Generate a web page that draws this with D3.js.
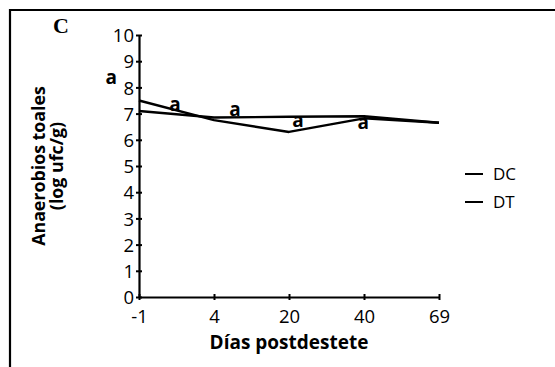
<!DOCTYPE html>
<html>
<head>
<meta charset="utf-8">
<script src="https://cdn.jsdelivr.net/npm/d3@7"></script>
<style>
  body { margin: 0; background: #fff; }
  svg { display: block; }
  text { font-family: "Open Sans", sans-serif; fill: #000; }
</style>
</head>
<body>
<div id="chart"></div>
<script>
// Chart values
const days = ['-1', '4', '20', '40', '69'];
const dcValues = [7.5, 6.75, 6.3, 6.82, 6.65];
const dtValues = [7.1, 6.85, 6.88, 6.9, 6.65];
const seriesNames = ['DC', 'DT'];

// significance letters, placed in data units (x = fractional day index)
const sigLetters = ['a', 'a', 'a', 'a', 'a'];
const sigX = [-0.37, 0.48, 1.28, 2.12, 2.99];
const sigY = [8.36, 7.33, 7.14, 6.72, 6.62];

const yTicks = d3.range(0, 11);

const WIDTH = 555;
const HEIGHT = 367;
const X0 = 139, X1 = 439; // plot extent
const Y0 = 297, Y1 = 35;
const TICK_FONT = '18.5px';

const svg = d3.select('#chart')
  .append('svg')
  .attr('width', WIDTH)
  .attr('height', HEIGHT);

// frame (only left and top edges are visible in the crop)
svg.append('path')
  .attr('d', `M10,${HEIGHT} V10 H${WIDTH}`)
  .attr('fill', 'none')
  .attr('stroke', '#000')
  .attr('stroke-width', 2.2);

svg.append('text')
  .attr('x', 53)
  .attr('y', 33)
  .style('font-family', '"Liberation Serif", serif')
  .style('font-weight', 'bold')
  .style('font-size', '22px')
  .text('C');

const x = d3.scaleLinear().domain([0, days.length - 1]).range([X0, X1]);
const y = d3.scaleLinear().domain([0, 10]).range([Y0, Y1]);

// y axis
const yAxis = svg.append('g')
  .attr('transform', `translate(${X0},0)`)
  .call(d3.axisLeft(y).tickValues(yTicks).tickSize(0).tickPadding(5));
yAxis.select('.domain').attr('stroke', '#000').attr('stroke-width', 2.2);
yAxis.selectAll('.tick text').style('font-size', TICK_FONT).style('font-family', '"Open Sans", sans-serif').attr('dy', '0.36em');
yAxis.selectAll('.tick').append('line')
  .attr('x1', -3).attr('x2', 3)
  .attr('stroke', '#000').attr('stroke-width', 2);

// x axis
const xAxis = svg.append('g')
  .attr('transform', `translate(0,${Y0})`)
  .call(d3.axisBottom(x).tickValues(d3.range(days.length)).tickFormat(i => days[i]).tickSize(0).tickPadding(13));
xAxis.select('.domain').attr('stroke', '#000').attr('stroke-width', 2.2);
xAxis.selectAll('.tick text').style('font-size', TICK_FONT).style('font-family', '"Open Sans", sans-serif');
xAxis.selectAll('.tick').append('line')
  .attr('y1', -3).attr('y2', 3)
  .attr('stroke', '#000').attr('stroke-width', 2);

// titles
svg.append('text')
  .attr('x', 289)
  .attr('y', 349)
  .attr('text-anchor', 'middle')
  .style('font-weight', 'bold')
  .style('font-size', '19px')
  .text('Días postdestete');

const yTitle = svg.append('g').attr('transform', 'translate(0,166) rotate(-90)');
yTitle.append('text')
  .attr('x', 0).attr('y', 45)
  .attr('text-anchor', 'middle')
  .style('font-weight', 'bold')
  .style('font-size', '17.8px')
  .text('Anaerobios toales');
yTitle.append('text')
  .attr('x', 0).attr('y', 63)
  .attr('text-anchor', 'middle')
  .style('font-weight', 'bold')
  .style('font-size', '17.8px')
  .text('(log ufc/g)');

// lines
const line = d3.line()
  .x((d, i) => x(i))
  .y(d => y(d));

[dcValues, dtValues].forEach(vals => {
  svg.append('path')
    .datum(vals)
    .attr('d', line)
    .attr('fill', 'none')
    .attr('stroke', '#000')
    .attr('stroke-width', 2.4)
    .attr('stroke-linejoin', 'round');
});

// significance letters
svg.selectAll('.sig')
  .data(sigLetters)
  .enter()
  .append('text')
  .attr('class', 'sig')
  .attr('x', (d, i) => x(sigX[i]))
  .attr('y', (d, i) => y(sigY[i]))
  .attr('dy', '0.3em')
  .attr('text-anchor', 'middle')
  .style('font-weight', 'bold')
  .style('font-size', '19px')
  .text(d => d);

// legend
const legend = svg.append('g').attr('transform', 'translate(465,174)');
seriesNames.forEach((name, i) => {
  const g = legend.append('g').attr('transform', `translate(0,${i * 28})`);
  g.append('line')
    .attr('x1', 0).attr('x2', 18)
    .attr('stroke', '#000').attr('stroke-width', 2);
  g.append('text')
    .attr('x', 28).attr('dy', '0.36em')
    .style('font-size', '17px')
    .text(name);
});
</script>
</body>
</html>
